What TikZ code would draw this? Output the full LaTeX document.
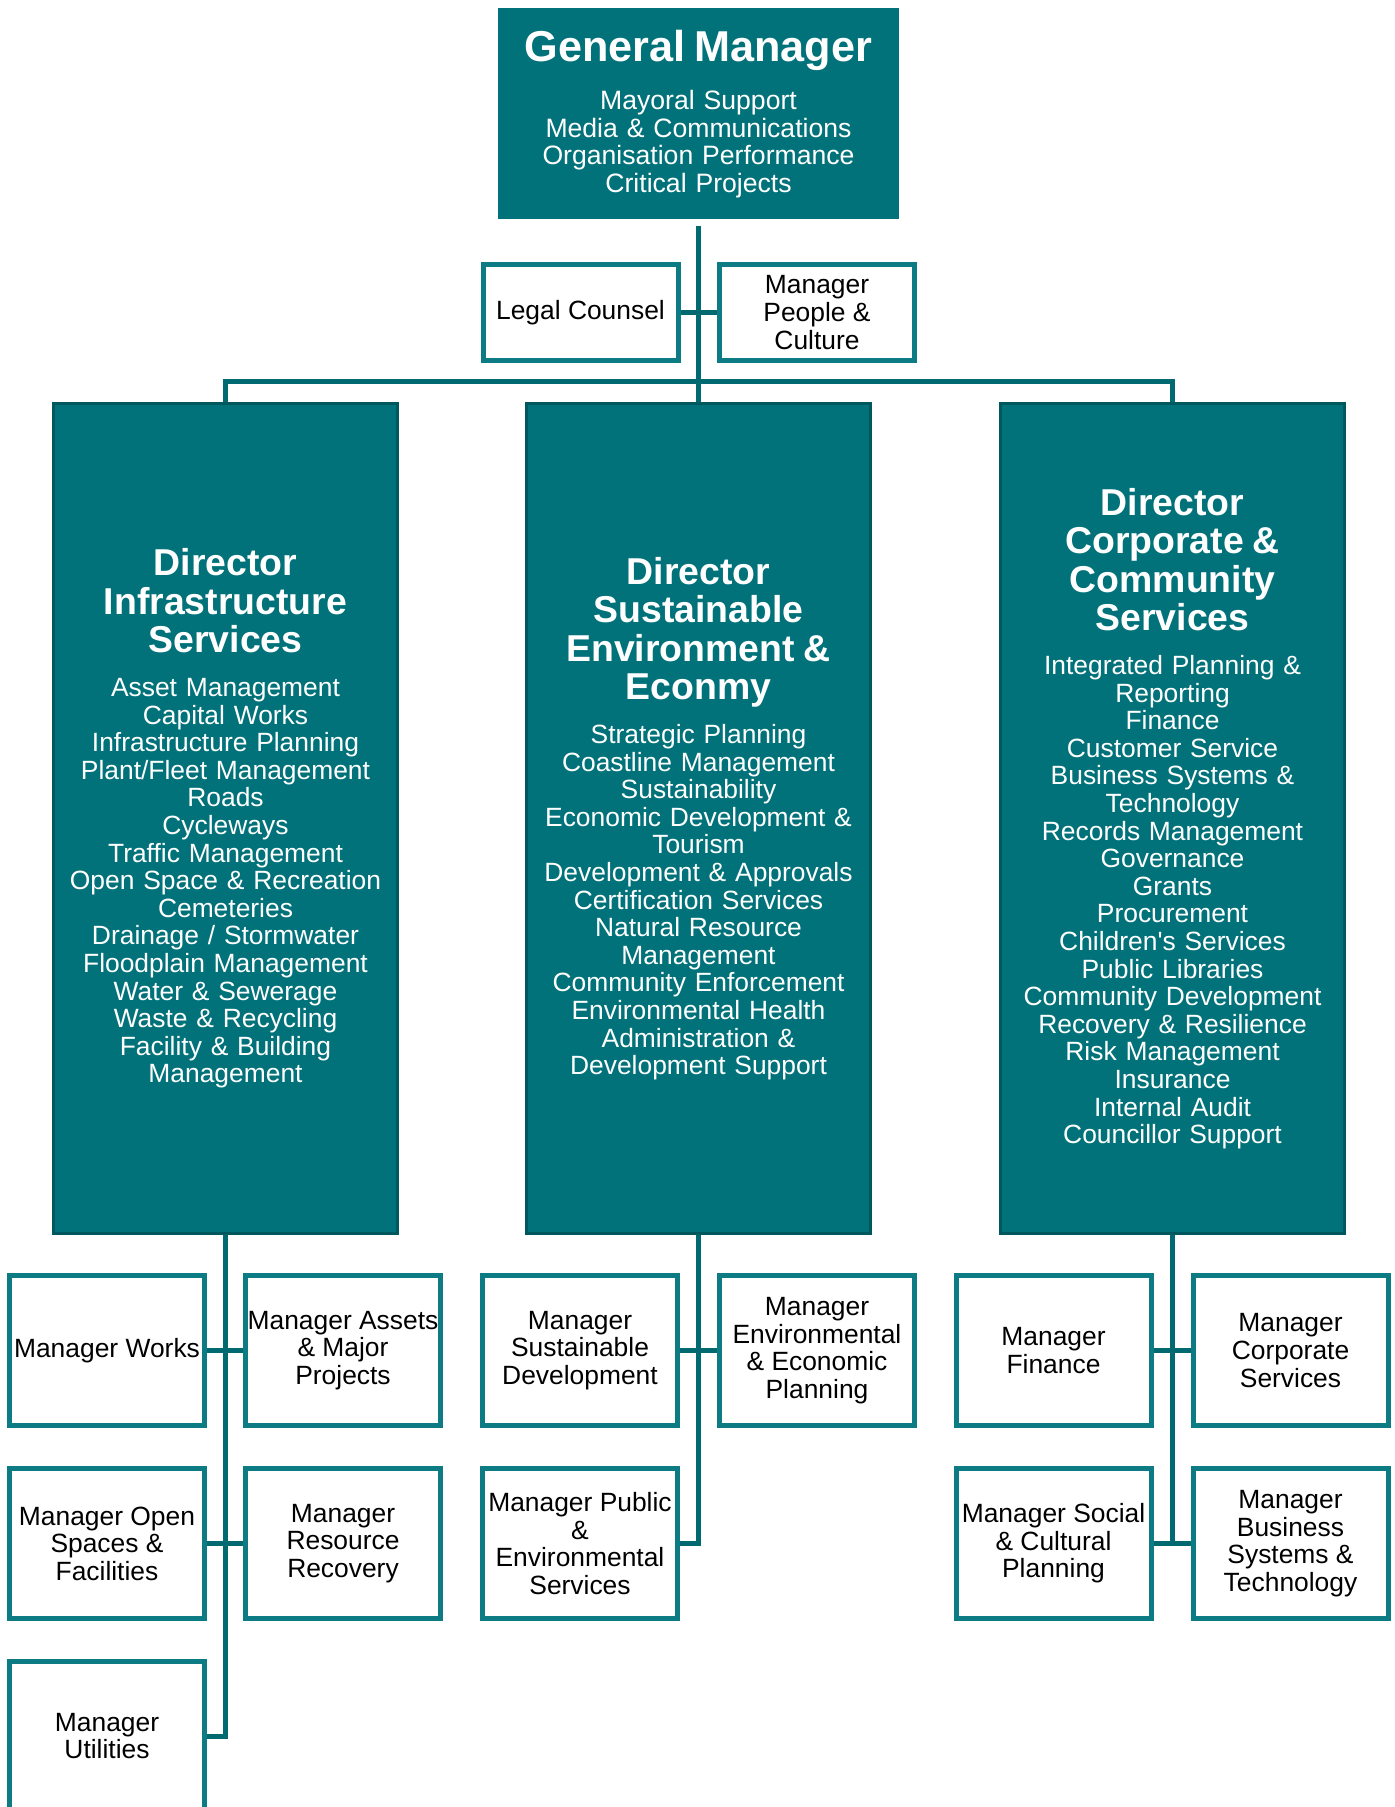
\documentclass[tikz,border=0pt]{standalone}
\usepackage{fontspec}
\setmainfont{Liberation Sans}
\definecolor{orgfill}{RGB}{2,114,122}
\definecolor{orgedge}{RGB}{0,88,95}
\definecolor{orglink}{RGB}{0,106,112}
\definecolor{mgredge}{RGB}{12,123,131}
\newcommand{\gmhead}{\fontsize{21.6}{24}\selectfont\bfseries}
\newcommand{\dirhead}{\fontsize{18.7}{19.3}\selectfont\bfseries}

\begin{document}
\begin{tikzpicture}[x=0.5pt, y=-0.5pt,
		link/.style={draw=orglink, line width=2.5pt},
		gmbox/.style={fill=orgfill, text=white, minimum width=200.5pt, minimum height=105.5pt, inner sep=0pt, text width=196pt, align=center, font=\fontsize{13.3}{13.8}\selectfont},
		dirbox/.style={draw=orgedge, line width=1.7pt, fill=orgfill, text=white, minimum width=171.8pt, minimum height=414.8pt, inner sep=0pt, text width=168pt, align=center, font=\fontsize{13.2}{13.8}\selectfont},
		mgrbox/.style={draw=mgredge, line width=2.5pt, fill=white, minimum width=97.5pt, minimum height=75pt, inner sep=0pt, align=center, font=\fontsize{13.2}{13.8}\selectfont}]
		\useasboundingbox (0,0) rectangle (1394,1807);
		
		\node[gmbox] (gm) at (698.5,114) {{\gmhead General Manager\par}\vspace{9pt}Mayoral Support\\Media \& Communications\\Organisation Performance\\Critical Projects};
		\node[mgrbox, minimum height=48pt] (legal) at (580.5,312.5) {Legal Counsel};
		\node[mgrbox, minimum height=48pt] (people) at (817,312.5) {Manager\\People \&\\Culture};
		
		\node[dirbox] (dleft) at (225.5,818.5) {{\dirhead Director\\Infrastructure\\Services\par}\vspace{8pt}Asset Management\\Capital Works\\Infrastructure Planning\\Plant/Fleet Management\\Roads\\Cycleways\\Traffic Management\\Open Space \& Recreation\\Cemeteries\\Drainage / Stormwater\\Floodplain Management\\Water \& Sewerage\\Waste \& Recycling\\Facility \& Building\\Management};
		\node[dirbox] (dmid) at (698.5,818.5) {{\dirhead Director\\Sustainable\\Environment \&\\Econmy\par}\vspace{8pt}Strategic Planning\\Coastline Management\\Sustainability\\Economic Development \&\\Tourism\\Development \& Approvals\\Certification Services\\Natural Resource\\Management\\Community Enforcement\\Environmental Health\\Administration \&\\Development Support};
		\node[dirbox] (dright) at (1172.5,818.5) {{\dirhead Director\\Corporate \&\\Community\\Services\par}\vspace{8pt}Integrated Planning \&\\Reporting\\Finance\\Customer Service\\Business Systems \&\\Technology\\Records Management\\Governance\\Grants\\Procurement\\Children\textquotesingle s Services\\Public Libraries\\Community Development\\Recovery \& Resilience\\Risk Management\\Insurance\\Internal Audit\\Councillor Support};
		
		\node[mgrbox] (works) at (107,1350.5) {Manager Works};
		\node[mgrbox] (assets) at (343,1350.5) {Manager Assets\\\& Major\\Projects};
		\node[mgrbox] (open) at (107,1543.5) {Manager Open\\Spaces \&\\Facilities};
		\node[mgrbox] (recov) at (343,1543.5) {Manager\\Resource\\Recovery};
		\node[mgrbox] (util) at (107,1736) {Manager\\Utilities};
		
		\node[mgrbox] (sustain) at (580,1350.5) {Manager\\Sustainable\\Development};
		\node[mgrbox] (envplan) at (817,1350.5) {Manager\\Environmental\\\& Economic\\Planning};
		\node[mgrbox] (public) at (580,1543.5) {Manager Public\\\&\\Environmental\\Services};
		
		\node[mgrbox] (finance) at (1053.5,1350.5) {Manager\\Finance};
		\node[mgrbox] (corp) at (1290.5,1350.5) {Manager\\Corporate\\Services};
		\node[mgrbox] (social) at (1053.5,1543.5) {Manager Social\\\& Cultural\\Planning};
		\node[mgrbox] (bustech) at (1290.5,1543.5) {Manager\\Business\\Systems \&\\Technology};
		
		\coordinate (bus) at (698.5,382);
		
		\draw[link] ([yshift=-3pt]gm.south) -- (dmid.north);
		\draw[link] (legal.east) -- (people.west);
		\draw[link] (dleft.north) |- (bus) -| (dright.north);
		
		\draw[link] (dleft.south) |- (util.east);
		\draw[link] (works.east) -- (assets.west);
		\draw[link] (open.east) -- (recov.west);
		
		\draw[link] (dmid.south) |- (public.east);
		\draw[link] (sustain.east) -- (envplan.west);
		
		\draw[link] (dright.south) |- (social.east);
		\draw[link] (social.east) -- (bustech.west);
		\draw[link] (finance.east) -- (corp.west);
	\end{tikzpicture}
\end{document}
